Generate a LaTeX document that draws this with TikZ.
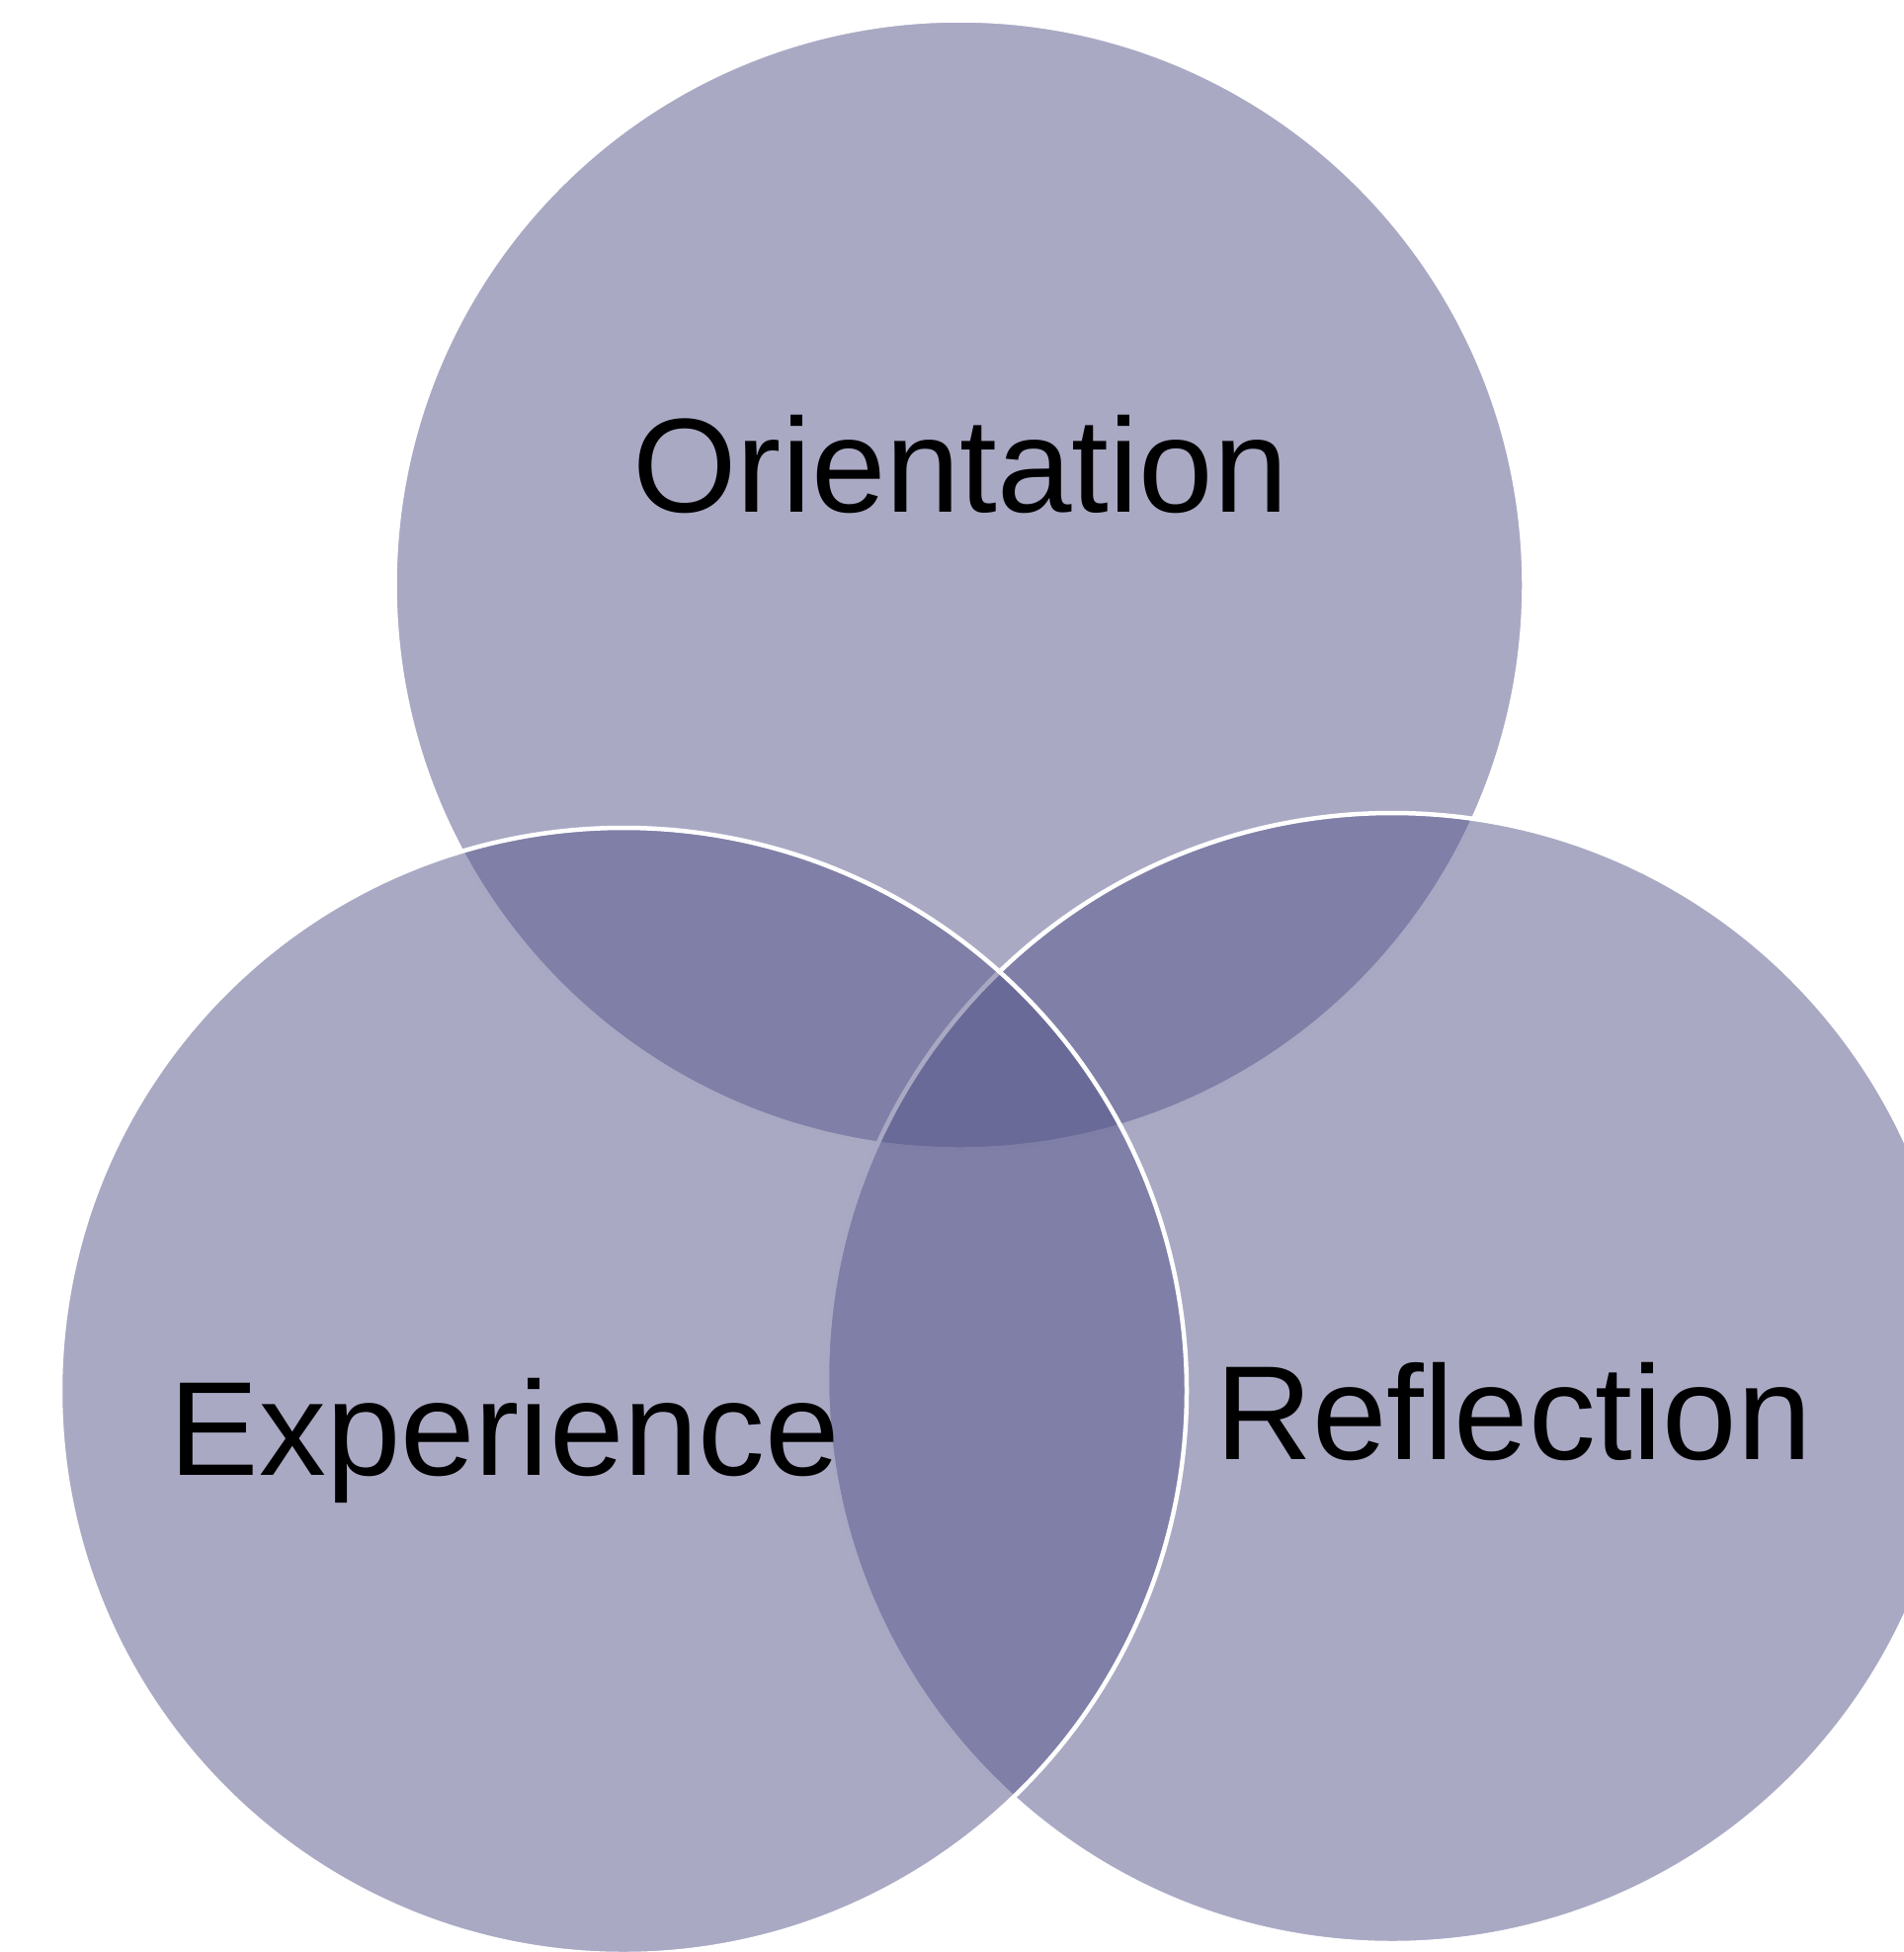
\documentclass[tikz,border=0pt]{standalone}
\usepackage{fontspec}
\setmainfont{Liberation Sans}
\definecolor{vennfill}{RGB}{87,87,140}
\begin{document}
\begin{tikzpicture}[x=0.5pt,y=0.5pt,
  vennset/.style={fill=vennfill, fill opacity=0.512, draw=white, draw opacity=1, line width=2.25pt},
  vennlabel/.style={font=\fontsize{67.8}{80}\selectfont, text=black, inner sep=0pt, anchor=base}]
\useasboundingbox (0,0) rectangle (1927,-1976);
% drawing order: top, right, left
\path[vennset] (971,-592) circle[radius=571.5];
\path[vennset] (1409,-1395) circle[radius=572];
\path[vennset] (631,-1408) circle[radius=570];
\node[vennlabel] (orient) at (972,-518) {Orientation};
\node[vennlabel] (exper) at (511,-1493) {Experience};
\node[vennlabel] (refl) at (1532,-1477) {Reflection};
\end{tikzpicture}
\end{document}
